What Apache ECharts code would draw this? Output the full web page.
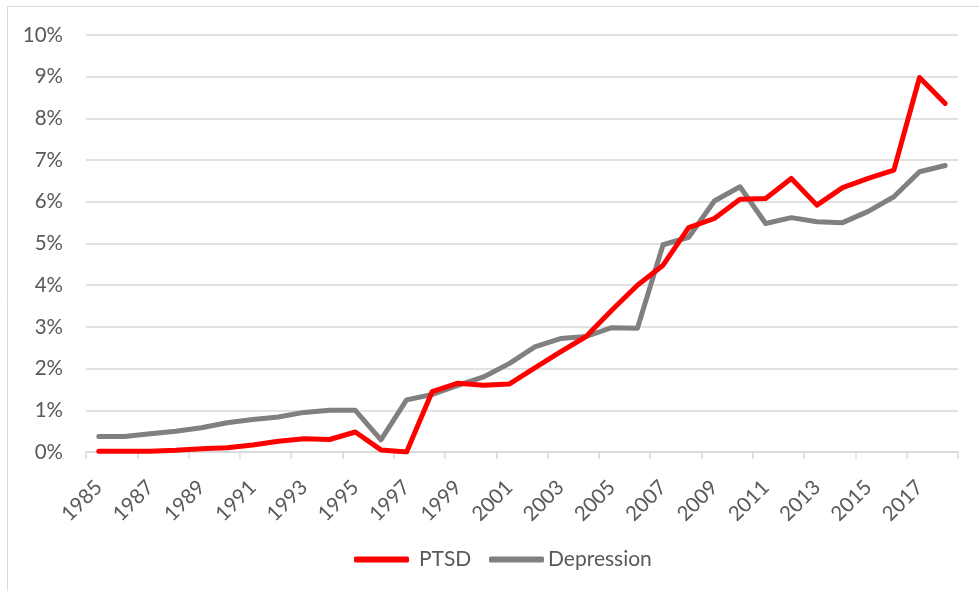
<!DOCTYPE html>
<html>
<head>
<meta charset="utf-8">
<script src="https://cdn.jsdelivr.net/npm/echarts@6/dist/echarts.min.js"></script>
<style>html,body{margin:0;padding:0;background:#fff}#c{width:979px;height:591px}</style>
</head>
<body>
<div id="c"></div>
<script>
var years = [1985,1986,1987,1988,1989,1990,1991,1992,1993,1994,1995,1996,1997,1998,1999,2000,2001,2002,2003,2004,2005,2006,2007,2008,2009,2010,2011,2012,2013,2014,2015,2016,2017,2018];
var ptsd = [0.02,0.02,0.02,0.04,0.08,0.10,0.17,0.26,0.32,0.30,0.48,0.05,0.00,1.45,1.65,1.60,1.63,2.02,2.40,2.77,3.40,4.00,4.48,5.38,5.60,6.06,6.08,6.56,5.92,6.34,6.56,6.76,8.98,8.36];
var depression = [0.37,0.37,0.44,0.50,0.58,0.70,0.78,0.84,0.95,1.00,1.00,0.29,1.25,1.38,1.60,1.80,2.12,2.52,2.72,2.77,2.98,2.97,4.97,5.15,6.02,6.36,5.48,5.62,5.52,5.50,5.77,6.12,6.72,6.87];
var yTicks = [0,1,2,3,4,5,6,7,8,9,10];

var font = 'Lato, "Open Sans", sans-serif';
var legendBase = {
  top: 549, padding: 0,
  icon: 'roundRect', itemWidth: 55, itemHeight: 6,
  textStyle: {color: '#595959', fontSize: 21, fontFamily: font}
};
var chart = echarts.init(document.getElementById('c'), null, {renderer:'canvas'});
chart.setOption({
  animation: false,
  backgroundColor: '#ffffff',
  graphic: [{
    type: 'rect', silent: true,
    shape: {x: 7.5, y: 6.5, width: 990, height: 600},
    style: {fill: 'none', stroke: '#d9d9d9', lineWidth: 1}
  }],
  grid: {left: 86, right: 21, top: 35, bottom: 139, containLabel: false},
  legend: [
    Object.assign({}, legendBase, {left: 354, data: ['PTSD'],
      textStyle: Object.assign({}, legendBase.textStyle, {padding: [0,0,0,5]})}),
    Object.assign({}, legendBase, {left: 489, data: ['Depression'],
      textStyle: Object.assign({}, legendBase.textStyle, {padding: [0,0,0,-1]})})
  ],
  xAxis: {
    type: 'category',
    data: years.map(String),
    boundaryGap: true,
    axisLine: {lineStyle: {color: '#d9d9d9', width: 1.5}},
    axisTick: {show: true, interval: 1, length: 7, lineStyle: {color: '#d9d9d9', width: 1.5}},
    axisLabel: {interval: 1, rotate: 45, color: '#595959', fontSize: 20.5, fontFamily: font, margin: 32},
    splitLine: {show: false}
  },
  yAxis: {
    type: 'value', min: 0, max: 10, interval: 1,
    axisLine: {show: false}, axisTick: {show: false},
    axisLabel: {color: '#595959', fontSize: 20.5, fontFamily: font, margin: 23,
      formatter: function(v){ return yTicks.indexOf(v) >= 0 ? v + '%' : ''; }},
    splitLine: {lineStyle: {color: '#d9d9d9', width: 1.5}}
  },
  series: [
    {name: 'PTSD', type: 'line', data: ptsd, symbol: 'none', smooth: false,
     lineStyle: {color: '#ff0000', width: 5, cap: 'round', join: 'round'}, itemStyle: {color: '#ff0000'}, z: 3},
    {name: 'Depression', type: 'line', data: depression, symbol: 'none', smooth: false,
     lineStyle: {color: '#808080', width: 5, cap: 'round', join: 'round'}, itemStyle: {color: '#808080'}, z: 2}
  ]
});
</script>
</body>
</html>
